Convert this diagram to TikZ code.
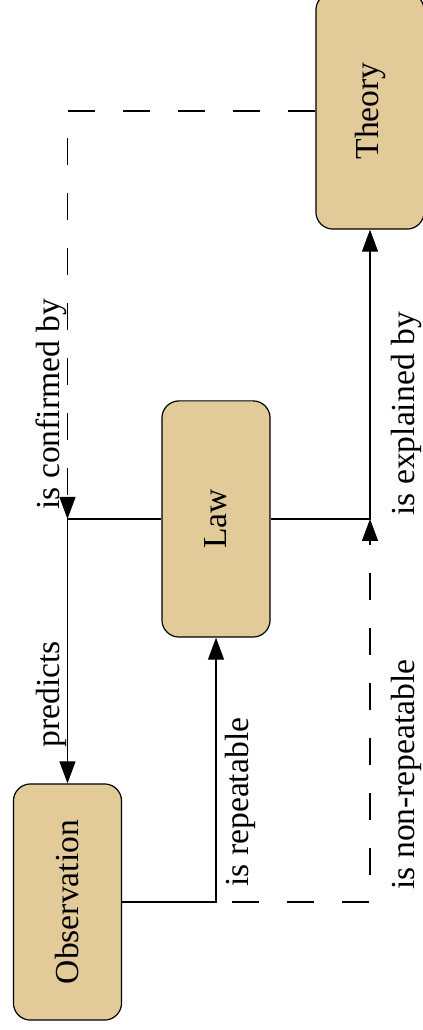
\documentclass[tikz,border=0pt]{standalone}
\usepackage{fontspec}
\setmainfont{Liberation Serif}
\usepackage{graphicx}
\usetikzlibrary{arrows.meta}
\definecolor{boxtan}{RGB}{226,203,153}

\begin{document}
\begin{tikzpicture}[
		font=\fontsize{16.8}{20}\selectfont,
		stage/.style={draw, fill=boxtan, rounded corners=0.3cm, line width=0.6pt, minimum width=1.9cm, minimum height=4.15cm},
		lbl/.style={rotate=90, inner sep=0pt, anchor=base west},
		link/.style={line width=0.6pt, -{Triangle[length=11pt, width=8pt]}},
		hint/.style={link, dash pattern=on 13.5pt off 14pt}
	]
	\useasboundingbox (0,0) rectangle (7.433,18.1);
	
	\node[stage] (obs) at (1.186,2.249) {\rotatebox{90}{Observation}};
	\node[stage] (law) at (3.796,8.98) {\rotatebox{90}{Law}};
	\node[stage] (theory) at (6.502,16.149) {\rotatebox{90}{Theory}};
	
	\coordinate (lj) at (obs.north |- law.west);
	\coordinate (rj) at (theory.south |- law.east);
	
	\draw[link] (law.west) -| (obs.north);
	\draw[link] (law.east) -| (theory.south);
	\draw[link] (obs.east) -| (law.south);
	\draw[hint] (obs.east) -| (rj);
	\draw[hint] (theory.west) -| (lj);
	
	\node[lbl] (conf) at (1.037,9.138) {is confirmed by};
	\node[lbl] (pred) at (1.037,4.955) {predicts};
	\node[lbl] (rep) at (4.358,2.513) {is repeatable};
	\node[lbl] (nrep) at (7.28,2.46) {is non-repeatable};
	\node[lbl] (expl) at (7.28,9.032) {is explained by};
\end{tikzpicture}
\end{document}
